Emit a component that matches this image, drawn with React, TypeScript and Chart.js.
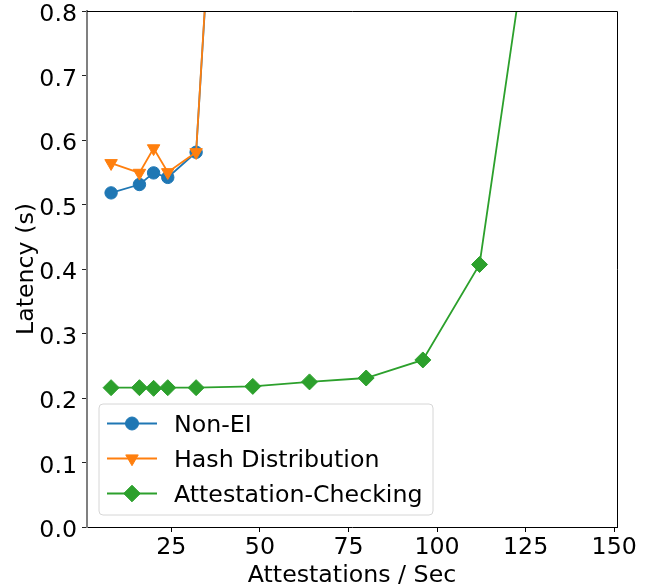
import React, { useEffect, useRef } from 'react';
import { Chart, registerables } from 'chart.js';
Chart.register(...registerables);

const seriesNames = ['Non-EI', 'Hash Distribution', 'Attestation-Checking'];
const seriesColors = ['#1f77b4', '#ff7f0e', '#2ca02c'];

const nonEiX = [8, 16, 20, 24, 32, 40];
const nonEiY = [0.518, 0.531, 0.549, 0.542, 0.581, 1.3];
const hashX = [8, 16, 20, 24, 32, 40];
const hashY = [0.564, 0.549, 0.587, 0.55, 0.581, 1.31];
const attX = [8, 16, 20, 24, 32, 48, 64, 80, 96, 112, 128, 144];
const attY = [0.216, 0.216, 0.215, 0.216, 0.216, 0.218, 0.225, 0.231, 0.259, 0.407, 1.01, 1.6];

const xTicks = [25, 50, 75, 100, 125, 150];
const yTicks = [0, 0.1, 0.2, 0.3, 0.4, 0.5, 0.6, 0.7, 0.8];
const xTitle = 'Attestations / Sec';
const yTitle = 'Latency (s)';

const FONT = '"DejaVu Sans", sans-serif';
const FS = 23.7;

function pts(xs: number[], ys: number[]) {
  return xs.map((x, i) => ({ x, y: ys[i] }));
}

function drawMarker(ctx: CanvasRenderingContext2D, kind: string, x: number, y: number, r: number, color: string) {
  ctx.save();
  ctx.fillStyle = color;
  ctx.strokeStyle = color;
  ctx.lineWidth = 1;
  ctx.beginPath();
  if (kind === 'circle') {
    ctx.arc(x, y, r, 0, Math.PI * 2);
  } else if (kind === 'tri') {
    ctx.moveTo(x, y + r);
    ctx.lineTo(x - r * Math.sin(Math.PI / 3), y - r / 2);
    ctx.lineTo(x + r * Math.sin(Math.PI / 3), y - r / 2);
    ctx.closePath();
  } else {
    ctx.moveTo(x - r, y);
    ctx.lineTo(x, y - r);
    ctx.lineTo(x + r, y);
    ctx.lineTo(x, y + r);
    ctx.closePath();
  }
  ctx.fill();
  ctx.stroke();
  ctx.restore();
}

const decorPlugin = {
  id: 'mplDecor',
  afterDraw(chart: any) {
    const ctx: CanvasRenderingContext2D = chart.ctx;
    const a = chart.chartArea;
    const xs = chart.scales.x;
    const ys = chart.scales.y;
    ctx.save();
    // top and right spines
    ctx.strokeStyle = '#000';
    ctx.lineWidth = 1;
    ctx.beginPath();
    ctx.moveTo(a.left, a.top + 0.5);
    ctx.lineTo(a.right + 0.5, a.top + 0.5);
    ctx.lineTo(a.right + 0.5, a.bottom);
    ctx.stroke();

    ctx.fillStyle = '#000';
    ctx.font = `${FS}px ${FONT}`;
    // x tick labels
    ctx.textAlign = 'center';
    ctx.textBaseline = 'alphabetic';
    xTicks.forEach((v) => {
      ctx.fillText(String(v), xs.getPixelForValue(v), a.bottom + 26.5);
    });
    // y tick labels
    ctx.textAlign = 'right';
    yTicks.forEach((v) => {
      ctx.fillText(v.toFixed(1), a.left - 10, ys.getPixelForValue(v) + 0.364 * FS + 1.5);
    });
    // x title
    ctx.textAlign = 'center';
    ctx.fillText(xTitle, (a.left + a.right) / 2, a.bottom + 55);
    // y title
    ctx.save();
    ctx.translate(33, (a.top + a.bottom) / 2);
    ctx.rotate(-Math.PI / 2);
    ctx.fillText(yTitle, 0, 0);
    ctx.restore();

    // legend
    const lx = 99, ly = 404, lw = 334, lh = 111, rr = 4;
    ctx.beginPath();
    ctx.moveTo(lx + rr, ly);
    ctx.lineTo(lx + lw - rr, ly);
    ctx.arcTo(lx + lw, ly, lx + lw, ly + rr, rr);
    ctx.lineTo(lx + lw, ly + lh - rr);
    ctx.arcTo(lx + lw, ly + lh, lx + lw - rr, ly + lh, rr);
    ctx.lineTo(lx + rr, ly + lh);
    ctx.arcTo(lx, ly + lh, lx, ly + lh - rr, rr);
    ctx.lineTo(lx, ly + rr);
    ctx.arcTo(lx, ly, lx + rr, ly, rr);
    ctx.closePath();
    ctx.fillStyle = 'rgba(255,255,255,0.8)';
    ctx.fill();
    ctx.strokeStyle = '#d6d6d6';
    ctx.lineWidth = 1;
    ctx.stroke();

    const kinds = ['circle', 'tri', 'diamond'];
    const radii = [6.5, 7.2, 8.3];
    seriesNames.forEach((name, i) => {
      const yc = 423.5 + i * 35;
      ctx.strokeStyle = seriesColors[i];
      ctx.lineWidth = 1.8;
      ctx.beginPath();
      ctx.moveTo(107, yc);
      ctx.lineTo(157, yc);
      ctx.stroke();
      drawMarker(ctx, kinds[i], 132, yc, radii[i], seriesColors[i]);
      ctx.fillStyle = '#000';
      ctx.textAlign = 'left';
      ctx.textBaseline = 'alphabetic';
      ctx.font = `${FS}px ${FONT}`;
      ctx.fillText(name, 174, yc + 8.4);
    });
    ctx.restore();
  },
};

export default function App() {
  const ref = useRef<HTMLCanvasElement>(null);
  useEffect(() => {
    document.body.style.margin = '0';
    const chart = new Chart(ref.current as HTMLCanvasElement, {
      type: 'line',
      data: {
        datasets: [
          {
            label: seriesNames[0],
            data: pts(nonEiX, nonEiY),
            borderColor: seriesColors[0],
            backgroundColor: seriesColors[0],
            pointBackgroundColor: seriesColors[0],
            pointBorderColor: seriesColors[0],
            pointStyle: 'circle',
            pointRadius: 6.2,
            pointBorderWidth: 1,
            borderWidth: 1.8,
            order: 3,
            clip: 0,
          },
          {
            label: seriesNames[1],
            data: pts(hashX, hashY),
            borderColor: seriesColors[1],
            backgroundColor: seriesColors[1],
            pointBackgroundColor: seriesColors[1],
            pointBorderColor: seriesColors[1],
            pointStyle: 'triangle',
            pointRotation: 180,
            pointRadius: 7.2,
            pointBorderWidth: 1,
            borderWidth: 1.8,
            order: 2,
            clip: 0,
          },
          {
            label: seriesNames[2],
            data: pts(attX, attY),
            borderColor: seriesColors[2],
            backgroundColor: seriesColors[2],
            pointBackgroundColor: seriesColors[2],
            pointBorderColor: seriesColors[2],
            pointStyle: 'rectRot',
            pointRadius: 8,
            pointBorderWidth: 1,
            borderWidth: 1.8,
            order: 1,
            clip: 0,
          },
        ] as any,
      },
      options: {
        responsive: false,
        animation: false,
        events: [],
        layout: { padding: { top: 11, right: 30, left: 0, bottom: 0 }, autoPadding: false } as any,
        plugins: { legend: { display: false }, tooltip: { enabled: false } },
        scales: {
          x: {
            type: 'linear',
            min: 1.2,
            max: 150.8,
            afterFit: (s: any) => { s.height = 61; },
            afterBuildTicks: (s: any) => { s.ticks = xTicks.map((v) => ({ value: v })); },
            ticks: { display: false },
            grid: { drawOnChartArea: false, drawTicks: true, tickLength: 5, tickColor: '#000', tickWidth: 1 },
            border: { display: true, color: '#000', width: 1 },
          },
          y: {
            type: 'linear',
            min: 0,
            max: 0.8,
            afterFit: (s: any) => { s.width = 87; },
            afterBuildTicks: (s: any) => { s.ticks = yTicks.map((v) => ({ value: v })); },
            ticks: { display: false },
            grid: { drawOnChartArea: false, drawTicks: true, tickLength: 5, tickColor: '#222', tickWidth: 1 },
            border: { display: true, color: '#808080', width: 2 },
          },
        },
      } as any,
      plugins: [decorPlugin],
    });
    return () => chart.destroy();
  }, []);
  return (
    <div style={{ width: 647, height: 588 }}>
      <canvas ref={ref} width={647} height={588} style={{ display: 'block', width: 647, height: 588 }} />
    </div>
  );
}
